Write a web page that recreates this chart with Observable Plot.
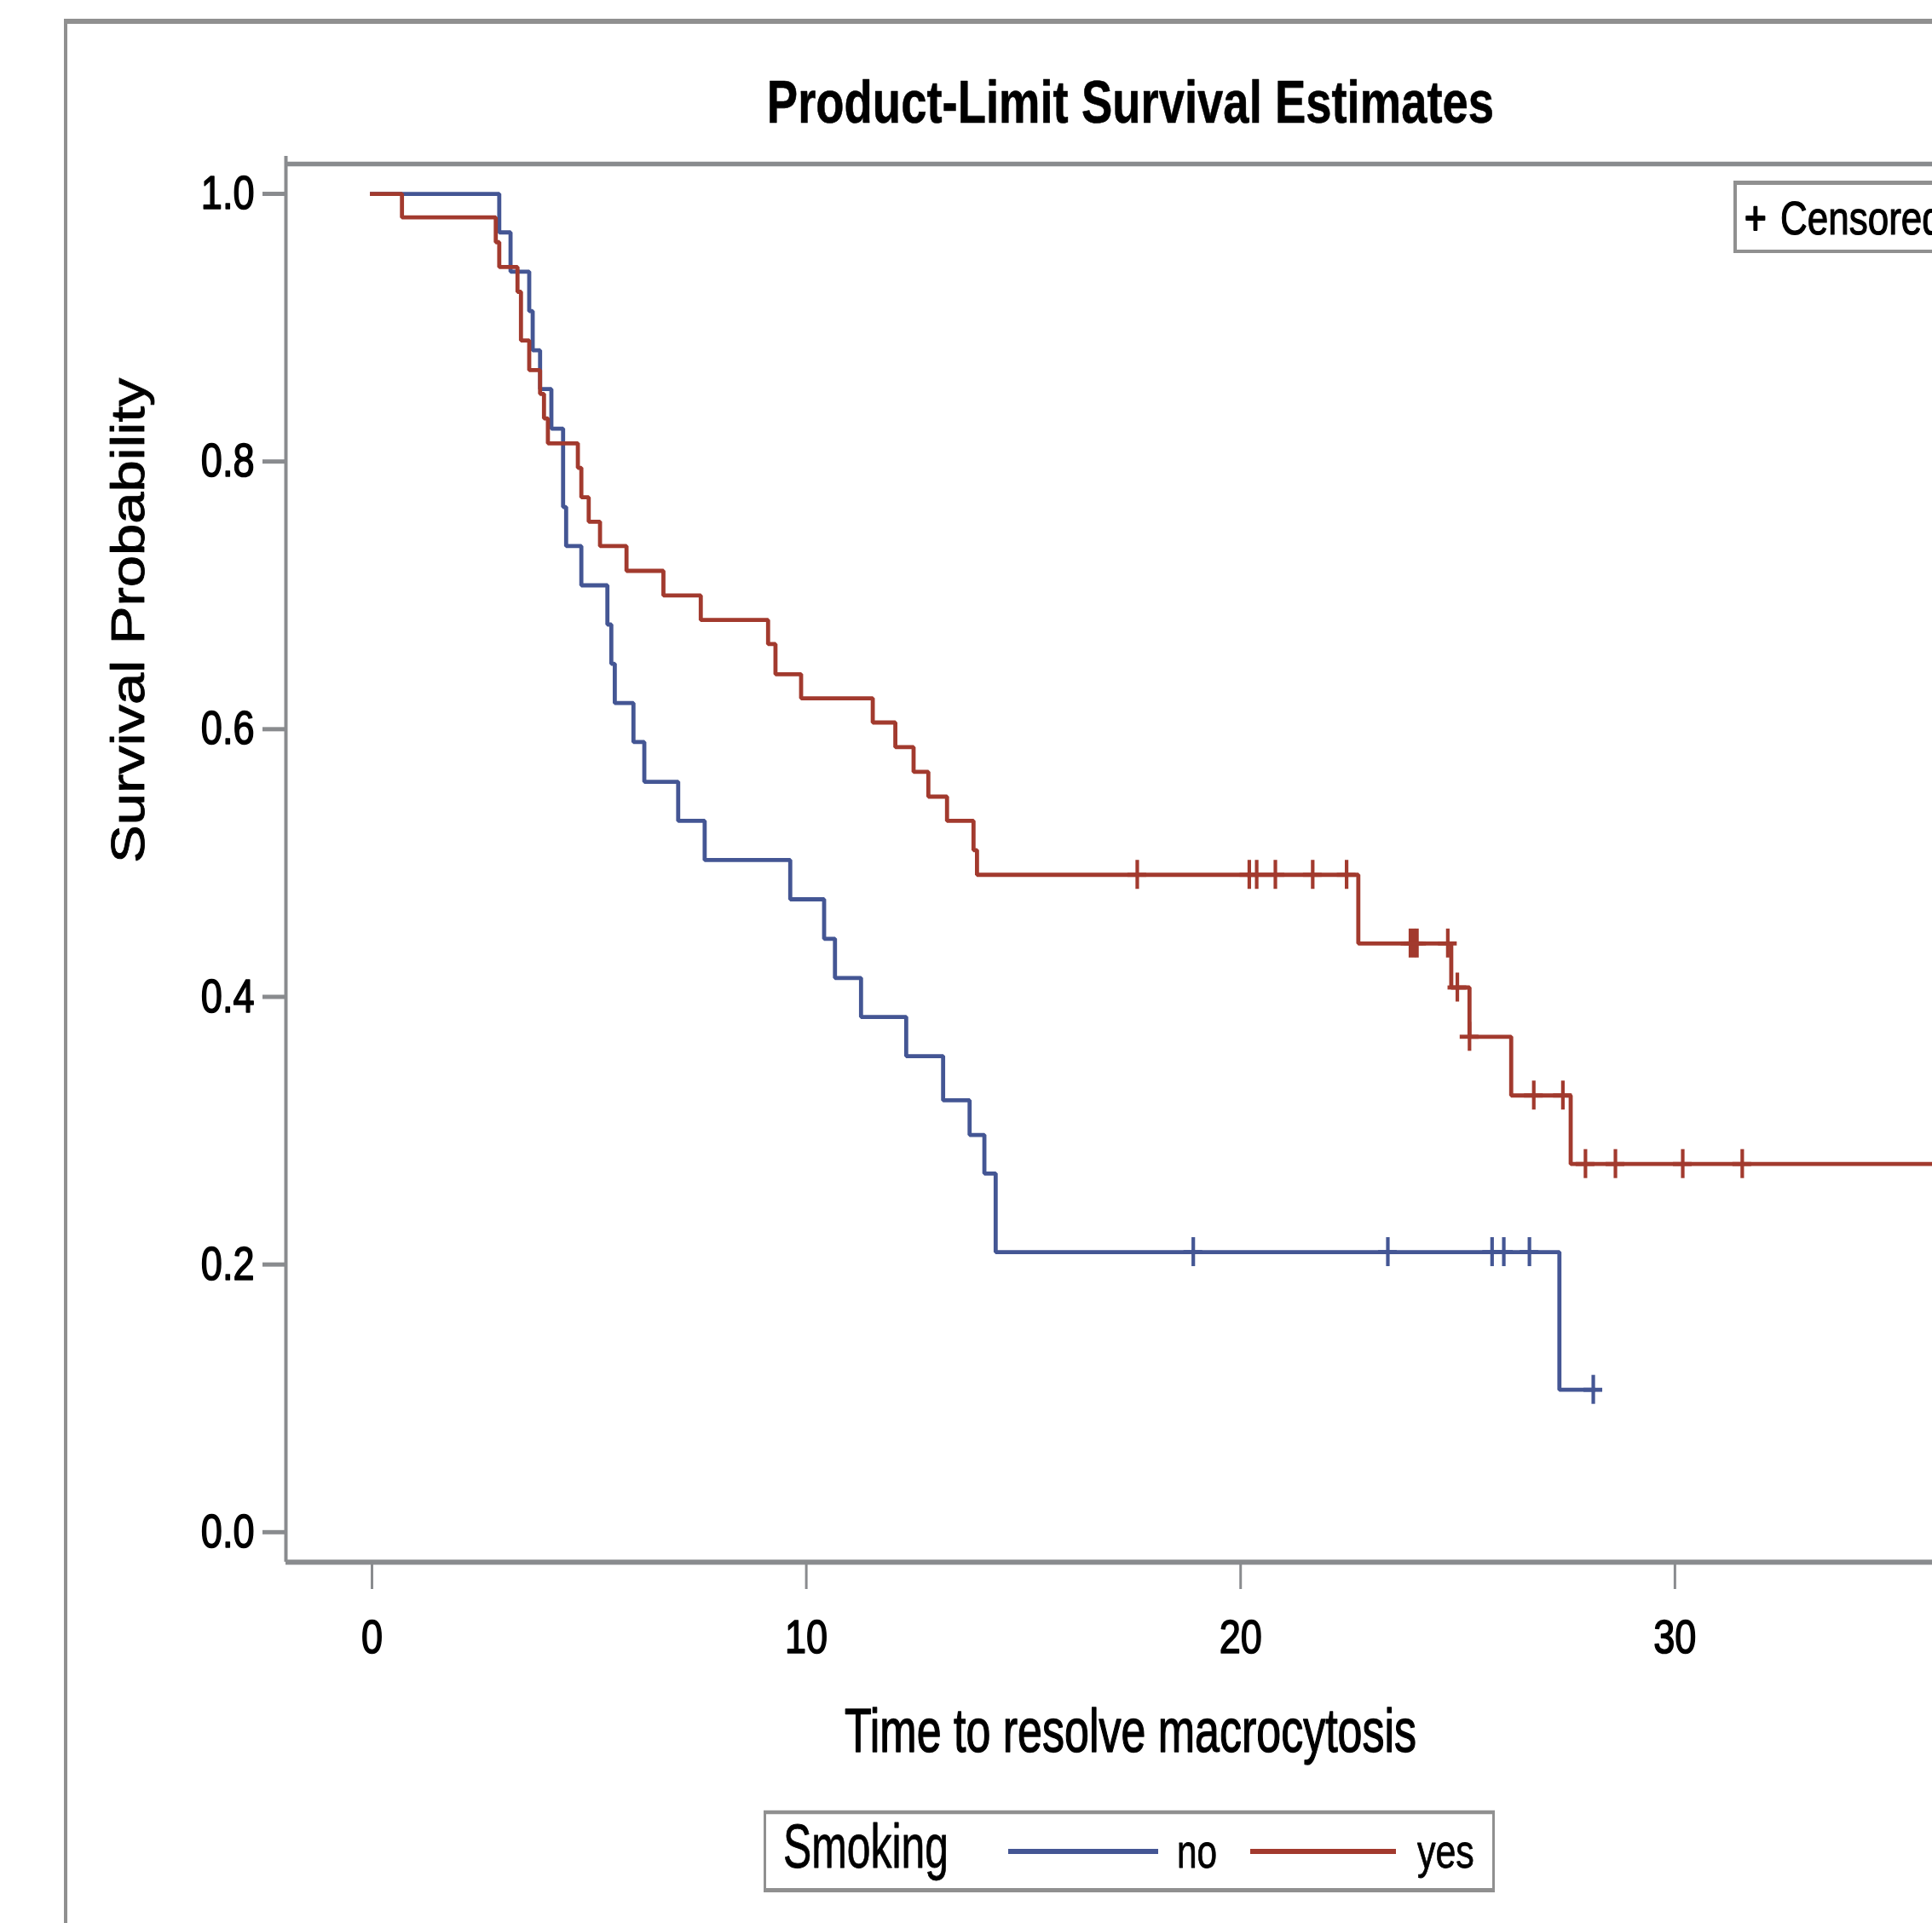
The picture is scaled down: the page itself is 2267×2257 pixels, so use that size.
<!DOCTYPE html>
<html>
<head>
<meta charset="utf-8">
<script src="https://cdn.jsdelivr.net/npm/d3@7"></script>
<script src="https://cdn.jsdelivr.net/npm/@observablehq/plot@0.6"></script>
<style>
html, body { margin: 0; padding: 0; background: #fff; overflow: hidden; width: 2267px; height: 2257px; }
#chart { position: absolute; left: 0; top: 0; width: 2500px; }
#chart svg { max-width: none !important; }
</style>
</head>
<body>
<div id="chart"></div>
<script>
// ---------- data ----------
const groups = ["no", "yes"];
const groupColors = ["#445694", "#A23A2E"];

// Smoking = no : event times and survival after each step (last point = last censored time)
const noTimes = [0, 2.93, 3.19, 3.62, 3.70, 3.87, 4.13, 4.40, 4.47, 4.82, 5.42, 5.51, 5.59, 6.02, 6.27, 7.05, 7.66, 9.63, 10.41, 10.66, 11.26, 12.30, 13.15, 13.76, 14.10, 14.36, 27.34, 28.12];
const noSurv  = [1.0, 0.9712, 0.9419, 0.9124, 0.8831, 0.8541, 0.8246, 0.7660, 0.7368, 0.7075, 0.6782, 0.6489, 0.6195, 0.5904, 0.5607, 0.5315, 0.5022, 0.4729, 0.4434, 0.4141, 0.3850, 0.3557, 0.3227, 0.2968, 0.2680, 0.2093, 0.1064, 0.1064];

// Smoking = yes
const yesTimes = [0, 0.69, 2.85, 2.93, 3.35, 3.43, 3.62, 3.87, 3.96, 4.05, 4.74, 4.82, 4.99, 5.25, 5.86, 6.71, 7.57, 9.12, 9.29, 9.88, 11.53, 12.05, 12.47, 12.81, 13.24, 13.85, 13.93, 22.71, 24.85, 25.27, 26.23, 27.60, 36.40];
const yesSurv  = [1.0, 0.9824, 0.9639, 0.9453, 0.9268, 0.8905, 0.8683, 0.8505, 0.8322, 0.8136, 0.7953, 0.7733, 0.7550, 0.7368, 0.7183, 0.6999, 0.6816, 0.6636, 0.6411, 0.6231, 0.6050, 0.5866, 0.5681, 0.5496, 0.5315, 0.5096, 0.4912, 0.4399, 0.4070, 0.3702, 0.3263, 0.2751, 0.2751];

// censored observations
const noCensTimes = [18.91, 23.39, 25.79, 26.06, 26.65, 28.12];
const noCensSurv  = [0.2093, 0.2093, 0.2093, 0.2093, 0.2093, 0.1064];
const yesCensTimes = [17.62, 20.20, 20.37, 20.80, 21.66, 22.44, 23.91, 23.99, 24.06, 24.77, 24.99, 25.27, 26.75, 27.42, 27.94, 28.63, 30.18, 31.55];
const yesCensSurv  = [0.4912, 0.4912, 0.4912, 0.4912, 0.4912, 0.4912, 0.4399, 0.4399, 0.4399, 0.4399, 0.4070, 0.3702, 0.3263, 0.3263, 0.2751, 0.2751, 0.2751, 0.2751];

const xTicks = [0, 10, 20, 30];
const yTicks = [0.0, 0.2, 0.4, 0.6, 0.8, 1.0];
const xDomain = [-1.982, 36.91];
const yDomain = [-0.0224, 1.0223];

const titleText = "Product-Limit Survival Estimates";
const xLabelText = "Time to resolve macrocytosis";
const yLabelText = "Survival Probability";
const legendTitle = "Smoking";
const censoredLabel = "Censored";

// ---------- tables built from the arrays ----------
const steps = [
  ...noTimes.map((t, i) => ({g: "no", t, s: noSurv[i]})),
  ...yesTimes.map((t, i) => ({g: "yes", t, s: yesSurv[i]}))
];
const cens = [
  ...noCensTimes.map((t, i) => ({g: "no", t, s: noCensSurv[i]})),
  ...yesCensTimes.map((t, i) => ({g: "yes", t, s: yesCensSurv[i]}))
];

const AX = "#898b8e";
const FONT = "'Liberation Sans', Arial, Helvetica, sans-serif";
const W = 2500, H = 2257;

const chart = Plot.plot({
  width: W,
  height: H,
  marginLeft: 335,
  marginRight: W - 2317,
  marginTop: 192,
  marginBottom: H - 1833,
  x: {domain: xDomain},
  y: {domain: yDomain},
  color: {domain: groups, range: groupColors},
  style: {fontFamily: FONT, background: "white", overflow: "visible", color: "black", maxWidth: "none"},
  marks: [
    Plot.ruleX([xDomain[0]], {stroke: AX, strokeWidth: 4, insetTop: -9}),
    Plot.ruleY([yDomain[1]], {stroke: AX, strokeWidth: 5.5}),
    Plot.ruleY([yDomain[0]], {stroke: AX, strokeWidth: 6}),
    Plot.axisY({ticks: yTicks, tickFormat: d3.format(".1f"), tickSize: 27, tickPadding: 10, fontSize: 55, stroke: AX, strokeWidth: 5, fill: "black", label: null}),
    Plot.axisX({ticks: xTicks, tickFormat: d => String(d), tickSize: 32, tickPadding: 35, fontSize: 55, stroke: AX, strokeWidth: 3, fill: "black", label: null}),
    Plot.line(steps, {x: "t", y: "s", z: "g", stroke: "g", curve: "step-after", strokeWidth: 4.8, strokeLinejoin: "miter", strokeLinecap: "square"}),
    Plot.ruleX(cens, {x: "t", y1: "s", y2: "s", stroke: "g", strokeWidth: 4.2, insetTop: -17, insetBottom: -17}),
    Plot.ruleY(cens, {y: "s", x1: "t", x2: "t", stroke: "g", strokeWidth: 4.8, insetLeft: -11, insetRight: -11}),
    Plot.text([titleText], {frameAnchor: "top", lineAnchor: "middle", dy: -71.7, fontSize: 71, fontWeight: "bold", fill: "black"}),
    Plot.text([xLabelText], {frameAnchor: "bottom", lineAnchor: "middle", dy: 199, fontSize: 72, fill: "black"}),
    Plot.text([yLabelText], {frameAnchor: "left", lineAnchor: "middle", rotate: -90, dx: -183.6, fontSize: 67, fill: "black"})
  ]
});
chart.style.maxWidth = "none";
chart.style.width = W + "px";
chart.style.height = H + "px";
document.getElementById("chart").appendChild(chart);

// ---------- condense text horizontally (as in the reference) ----------
function squash(sel, sx, sy = 1, weight = 0) {
  sel.each(function () {
    const el = d3.select(this);
    let tr = el.attr("transform") || "";
    const x = el.attr("x"), y = el.attr("y");
    let tx = 0, ty = 0, move = false;
    if (x != null && x !== "" && !isNaN(+x)) { tx = +x; el.attr("x", null); move = true; }
    if (y != null && y !== "" && !isNaN(+y)) { ty = +y; el.attr("y", null); move = true; }
    if (move) tr += ` translate(${tx},${ty})`;
    el.attr("transform", `${tr} scale(${sx},${sy})`);
    if (weight > 0) el.attr("stroke", "black").attr("stroke-width", weight).attr("paint-order", "stroke").attr("stroke-linejoin", "round");
  });
}
const svg = d3.select(chart);
squash(svg.selectAll('g[aria-label="y-axis tick label"] text'), 0.82, 1, 1.6);
squash(svg.selectAll('g[aria-label="x-axis tick label"] text'), 0.82, 1, 1.6);
const textGroups = svg.selectAll('g[aria-label="text"]').nodes();
squash(d3.select(textGroups[0]).selectAll("text"), 0.767, 1, 0.6);
squash(d3.select(textGroups[1]).selectAll("text"), 0.722, 1, 1.4);
squash(d3.select(textGroups[2]).selectAll("text"), 1, 0.82, 1.0);

// ---------- outer frame and legends ----------
const color = chart.scale("color");
const deco = svg.append("g").attr("font-family", FONT).attr("text-anchor", "start");
const LG = "#909090";
function hline(x1, x2, y, w, c = LG) { deco.append("line").attr("x1", x1).attr("x2", x2).attr("y1", y).attr("y2", y).attr("stroke", c).attr("stroke-width", w); }
function vline(x, y1, y2, w, c = LG) { deco.append("line").attr("x1", x).attr("x2", x).attr("y1", y1).attr("y2", y2).attr("stroke", c).attr("stroke-width", w); }
function label(str, x, y, size, sx, sw = 0) {
  const t = deco.append("text").attr("transform", `translate(${x},${y}) scale(${sx},1)`)
    .attr("text-anchor", "start")
    .attr("font-size", size).attr("fill", "black").text(str);
  if (sw > 0) t.attr("stroke", "black").attr("stroke-width", sw).attr("paint-order", "stroke").attr("stroke-linejoin", "round");
}

// outer graph border (left + top visible)
hline(75, 2600, 25, 6);
vline(77, 22, 2300, 4);

// bottom legend box
hline(896, 1754, 2127, 4.5);
hline(896, 1754, 2218.5, 5);
vline(897.5, 2125, 2221, 3);
vline(1752.5, 2125, 2221, 3);
label(legendTitle, 919, 2192, 72, 0.693, 0.8);
hline(1183, 1359, 2173, 6, color.apply("no"));
label("no", 1381, 2192, 55, 0.77, 0.8);
hline(1467, 1638, 2173, 6, color.apply("yes"));
label("yes", 1663, 2192, 55, 0.78, 0.8);

// censored legend box (top right, partly outside the picture)
hline(2034, 2600, 214.5, 5);
hline(2034, 2600, 295, 4);
vline(2036, 212, 297, 4);
label("+", 2047, 275, 55, 0.8, 2.2);
label(censoredLabel, 2089, 275, 55, 0.8, 1.2);
</script>
</body>
</html>
